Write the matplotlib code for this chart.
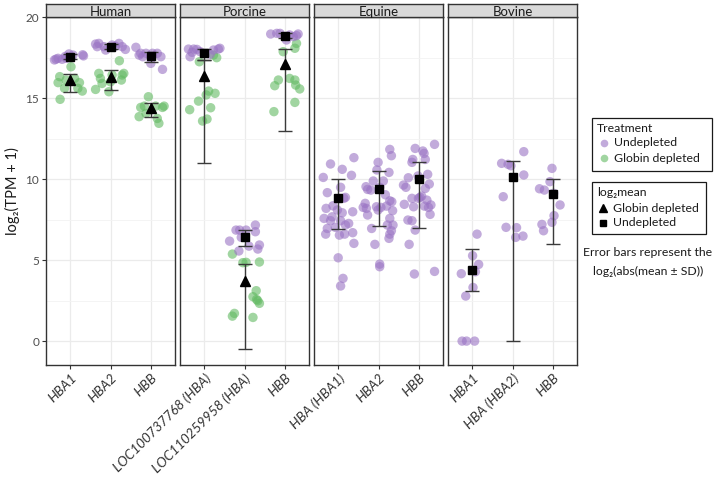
import numpy as np
import matplotlib.pyplot as plt
from matplotlib.patches import Rectangle
from matplotlib.lines import Line2D

plt.rcParams['font.family'] = ['Lato', 'DejaVu Sans']

species = ["Human", "Porcine", "Equine", "Bovine"]
genes = [["HBA1", "HBA2", "HBB"],
         ["LOC100737768 (HBA)", "LOC110259958 (HBA)", "HBB"],
         ["HBA (HBA1)", "HBA2", "HBB"],
         ["HBA1", "HBA (HBA2)", "HBB"]]

# sample points as (jitter offset, log2(TPM+1))
hum_hba1_und = [(-0.39, 17.35), (-0.30, 17.45), (-0.20, 17.39), (-0.12, 17.57), (-0.03, 17.72),
                (0.07, 17.65), (0.31, 17.67), (-0.35, 17.40), (-0.10, 17.45), (0.33, 17.6)]
hum_hba1_glo = [(0.02, 16.93), (-0.26, 16.32), (-0.30, 15.95), (-0.14, 15.6), (-0.25, 14.92),
                (0.23, 15.95), (0.30, 15.43), (0.19, 15.6), (-0.10, 16.11), (0.11, 16.21)]
hum_hba2_und = [(-0.37, 18.33), (-0.33, 18.17), (-0.29, 18.37), (-0.12, 17.96), (0.04, 18.27),
                (0.21, 18.37), (0.29, 18.17), (0.37, 18.0), (-0.16, 18.17), (0.12, 18.2)]
hum_hba2_glo = [(0.22, 17.3), (-0.29, 16.52), (-0.25, 16.21), (-0.37, 15.53), (-0.04, 15.39),
                (-0.21, 15.9), (0.0, 16.0), (0.29, 16.42), (0.33, 16.52), (0.27, 16.11), (0.04, 16.42)]
hum_hbb_und = [(-0.37, 18.13), (-0.29, 17.65), (-0.20, 17.55), (-0.12, 17.76), (0.04, 17.76),
               (0.16, 17.76), (0.25, 17.55), (0.0, 17.14), (0.29, 16.77), (-0.25, 17.76)]
hum_hbb_glo = [(-0.06, 15.08), (-0.25, 14.42), (-0.16, 14.5), (0.12, 14.5), (0.29, 14.42),
               (0.33, 14.5), (-0.29, 13.85), (-0.12, 14.05), (0.16, 13.74), (0.2, 13.44)]

por_loc1_und = [(-0.39, 18.02), (-0.26, 18.02), (-0.18, 18.0), (-0.35, 17.55), (-0.10, 17.86),
                (0.15, 17.7), (0.35, 18.02), (0.39, 18.07), (-0.30, 17.82), (0.23, 17.96)]
por_loc1_glo = [(-0.12, 17.24), (0.31, 17.49), (0.23, 17.65), (0.11, 15.43), (0.05, 15.19),
                (0.27, 15.29), (-0.14, 14.81), (-0.36, 14.28), (0.16, 14.4), (0.07, 13.7), (-0.04, 13.58)]
por_loc2_und = [(-0.21, 6.85), (-0.12, 6.85), (0.04, 6.85), (0.27, 7.16), (0.27, 6.75), (-0.37, 6.17),
                (-0.08, 6.4), (0.11, 5.86), (-0.14, 5.56), (0.33, 5.68), (0.37, 5.93)]
por_loc2_glo = [(-0.30, 5.37), (-0.04, 4.84), (0.04, 4.86), (0.37, 4.88), (0.29, 3.11), (0.21, 2.74),
                (0.30, 2.57), (0.37, 2.33), (0.33, 2.49), (-0.25, 1.71), (-0.30, 1.54), (0.21, 1.46)]
por_hbb_und = [(-0.35, 18.95), (-0.20, 18.99), (-0.12, 18.99), (0.04, 18.58), (0.21, 18.79),
               (0.29, 18.85), (0.33, 18.95), (0.12, 18.89)]
por_hbb_glo = [(0.29, 18.37), (0.25, 18.07), (-0.04, 17.86), (0.12, 16.21), (0.25, 16.11),
               (0.27, 15.8), (0.37, 15.56), (-0.16, 16.11), (-0.25, 15.76), (0.25, 14.73), (-0.27, 14.16)]

equ_hba_und = [(-0.19, 10.93), (0.10, 10.6), (0.39, 11.32), (-0.37, 10.1), (0.33, 10.23), (-0.27, 9.16),
               (0.06, 9.49), (0.18, 8.87), (-0.30, 8.19), (-0.13, 8.35), (-0.02, 8.09), (0.10, 7.92),
               (0.36, 7.98), (-0.35, 7.57), (-0.19, 7.43), (0.06, 7.43), (0.26, 7.26), (-0.27, 6.95),
               (-0.07, 7.02), (0.18, 7.16), (-0.31, 6.6), (0.03, 6.54), (0.16, 6.6), (0.36, 6.69),
               (0.39, 6.03), (0.0, 5.14), (0.12, 3.87), (0.06, 3.4), (-0.15, 7.67), (0.14, 8.81)]
equ_hba2_und = [(0.28, 11.83), (0.32, 11.44), (-0.01, 11.03), (0.26, 10.41), (-0.04, 10.56),
                (-0.13, 9.88), (0.12, 9.88), (-0.31, 9.53), (-0.27, 9.36), (-0.19, 9.32), (0.03, 9.49),
                (0.17, 9.03), (0.28, 8.66), (0.33, 8.6), (-0.33, 8.5), (-0.38, 8.25), (-0.30, 8.19),
                (-0.05, 8.29), (0.06, 8.25), (0.20, 8.33), (-0.01, 8.09), (0.35, 8.05), (-0.27, 7.78),
                (0.28, 7.57), (0.36, 7.16), (0.22, 7.16), (0.32, 6.81), (0.28, 6.6), (0.26, 6.34),
                (-0.09, 5.97), (0.03, 4.75), (0.03, 4.59), (-0.17, 6.95)]
equ_hbb_und = [(-0.09, 11.89), (0.39, 12.14), (0.10, 11.73), (0.13, 11.58), (-0.17, 11.03),
               (-0.15, 11.21), (0.16, 11.21), (0.22, 10.29), (-0.26, 10.08), (-0.02, 10.19),
               (0.26, 9.69), (-0.38, 9.63), (-0.32, 9.49), (0.16, 9.42), (-0.17, 8.81), (-0.01, 8.81),
               (0.07, 8.95), (0.20, 8.7), (-0.36, 8.44), (-0.13, 8.29), (0.14, 8.33), (0.24, 8.25),
               (0.30, 8.4), (0.28, 7.82), (-0.27, 7.47), (-0.17, 7.43), (-0.09, 6.85), (-0.24, 5.97),
               (-0.11, 4.14), (0.39, 4.3), (0.03, 8.87)]

bov_hba1_und = [(0.12, 6.6), (0.01, 5.27), (0.16, 4.73), (0.08, 4.28), (-0.27, 4.16), (0.02, 3.31),
                (-0.16, 2.78), (-0.25, 0.0), (-0.14, 0.0), (0.06, 0.0)]
bov_hba2_und = [(0.28, 11.69), (-0.27, 10.97), (-0.11, 10.91), (-0.04, 10.82), (0.28, 10.25),
                (-0.23, 8.91), (-0.16, 7.02), (0.10, 7.0), (0.08, 6.4), (0.26, 6.48)]
bov_hbb_und = [(-0.02, 10.66), (-0.07, 9.84), (-0.33, 9.4), (-0.21, 9.32), (0.02, 9.12), (0.18, 8.4),
               (0.03, 7.74), (-0.02, 7.33), (-0.27, 7.2), (-0.23, 6.81)]

# log2 means with log2(abs(mean +/- SD)) bars
und_mean = [[17.55, 18.17, 17.6], [17.8, 6.44, 18.85], [8.8, 9.36, 10.0], [4.38, 10.1, 9.07]]
und_lo = [[17.4, 18.02, 17.25], [17.35, 5.86, 18.68], [6.9, 7.12, 6.95], [3.1, 0.0, 6.0]]
und_hi = [[17.7, 18.32, 17.86], [18.05, 6.85, 19.0], [9.98, 10.5, 11.07], [5.66, 11.1, 9.98]]
glo_mean = [[16.1, 16.3, 14.4], [16.36, 3.72, 17.1]]
glo_lo = [[15.4, 15.5, 13.8], [11.0, -0.5, 12.96]]
glo_hi = [[16.46, 16.7, 14.7], [17.35, 4.73, 18.0]]

groups = [
    (0, 0, hum_hba1_glo, 'g'), (0, 0, hum_hba1_und, 'u'),
    (0, 1, hum_hba2_glo, 'g'), (0, 1, hum_hba2_und, 'u'),
    (0, 2, hum_hbb_glo, 'g'), (0, 2, hum_hbb_und, 'u'),
    (1, 0, por_loc1_glo, 'g'), (1, 0, por_loc1_und, 'u'),
    (1, 1, por_loc2_glo, 'g'), (1, 1, por_loc2_und, 'u'),
    (1, 2, por_hbb_glo, 'g'), (1, 2, por_hbb_und, 'u'),
    (2, 0, equ_hba_und, 'u'), (2, 1, equ_hba2_und, 'u'), (2, 2, equ_hbb_und, 'u'),
    (3, 0, bov_hba1_und, 'u'), (3, 1, bov_hba2_und, 'u'), (3, 2, bov_hbb_und, 'u'),
]

W, H = 715, 480
purple = '#9A74C4'
green = '#62BA62'
barcol = '#3A3A3A'

fig = plt.figure(figsize=(W / 100, H / 100), dpi=100)

lefts = [46, 180, 314, 448]
axes = []
for i, sp in enumerate(species):
    ax = fig.add_axes([lefts[i] / W, (H - 365) / H, 129 / W, 348 / H])
    ax.set_xlim(0.4, 3.6)
    ax.set_ylim(-1.475, 19.975)
    ax.set_yticks([0, 5, 10, 15, 20])
    ax.set_yticks([2.5, 7.5, 12.5, 17.5], minor=True)
    ax.grid(which='major', color='#EBEBEB', lw=0.9)
    ax.grid(which='minor', axis='y', color='#F3F3F3', lw=0.6)
    ax.set_axisbelow(True)
    ax.tick_params(which='minor', length=0)
    ax.tick_params(axis='both', which='major', length=3, width=0.8, color='#333333',
                   labelsize=8.5, labelcolor='#4D4D4D', pad=2)
    ax.set_xticks([1, 2, 3])
    ax.set_xticklabels(genes[i], rotation=45, ha='right', va='top', rotation_mode='anchor',
                       style='italic', fontsize=9.8, color='#333333')
    for s in ax.spines.values():
        s.set_color('#333333')
        s.set_linewidth(1.0)
    if i > 0:
        ax.tick_params(axis='y', left=False, labelleft=False)
    # strip
    st = fig.add_axes([lefts[i] / W, (H - 17) / H, 129 / W, 13 / H])
    st.set_facecolor('#D9D9D9')
    st.set_xticks([])
    st.set_yticks([])
    for s in st.spines.values():
        s.set_color('#333333')
        s.set_linewidth(1.0)
    st.text(0.5, 0.42, sp, ha='center', va='center', fontsize=9.5, color='#1A1A1A',
            transform=st.transAxes)
    axes.append(ax)

axes[0].set_ylabel('log₂(TPM + 1)', fontsize=10.5, color='#1A1A1A')
axes[0].yaxis.set_label_coords(-0.205, 0.5)

for sp_i, g_i, pts, tr in groups:
    pts = np.array(pts)
    axes[sp_i].scatter(g_i + 1 + pts[:, 0], pts[:, 1], s=46, color=green if tr == 'g' else purple,
                       alpha=0.6, edgecolors='none', zorder=2)

for i in range(4):
    x = np.arange(1, 4)
    m = np.array(und_mean[i])
    lo = np.array(und_lo[i])
    hi = np.array(und_hi[i])
    axes[i].errorbar(x, m, yerr=[m - lo, hi - m], fmt='none', ecolor=barcol, elinewidth=1,
                     capsize=4.8, capthick=1, zorder=3)
    if i < 2:
        gm = np.array(glo_mean[i])
        glo = np.array(glo_lo[i])
        ghi = np.array(glo_hi[i])
        axes[i].errorbar(x, gm, yerr=[gm - glo, ghi - gm], fmt='none', ecolor=barcol,
                         elinewidth=1, capsize=4.8, capthick=1, zorder=3)
        axes[i].plot(x, gm, '^', color='black', markersize=7.5, zorder=4)
    axes[i].plot(x, m, 's', color='black', markersize=6.3, zorder=4)


def fx(x):
    return x / W


def fy(y):
    return 1 - y / H


# legends drawn by hand
fs = 8.8
fig.patches.append(Rectangle((fx(592), fy(171)), 120 / W, 53 / H, transform=fig.transFigure,
                             fill=False, edgecolor='#1A1A1A', lw=0.9))
fig.text(fx(597), fy(128), 'Treatment', fontsize=fs, va='center', color='#1A1A1A')
fig.lines.append(Line2D([fx(604)], [fy(143)], marker='o', markersize=5.5, color=purple, alpha=0.6,
                        markeredgewidth=0, transform=fig.transFigure))
fig.lines.append(Line2D([fx(604)], [fy(158)], marker='o', markersize=5.5, color=green, alpha=0.6,
                        markeredgewidth=0, transform=fig.transFigure))
fig.text(fx(614), fy(143), 'Undepleted', fontsize=fs, va='center', color='#1A1A1A')
fig.text(fx(614), fy(158), 'Globin depleted', fontsize=fs, va='center', color='#1A1A1A')

fig.patches.append(Rectangle((fx(592), fy(234)), 114 / W, 52 / H, transform=fig.transFigure,
                             fill=False, edgecolor='#1A1A1A', lw=0.9))
fig.text(fx(597), fy(192), 'log₂mean', fontsize=fs, va='center', color='#1A1A1A')
fig.lines.append(Line2D([fx(603)], [fy(208)], marker='^', markersize=5.5, color='black',
                        transform=fig.transFigure))
fig.lines.append(Line2D([fx(603)], [fy(223)], marker='s', markersize=4.5, color='black',
                        transform=fig.transFigure))
fig.text(fx(613), fy(208), 'Globin depleted', fontsize=fs, va='center', color='#1A1A1A')
fig.text(fx(613), fy(223), 'Undepleted', fontsize=fs, va='center', color='#1A1A1A')

fig.text(fx(648), fy(253), 'Error bars represent the', fontsize=8.8, ha='center', va='center',
         color='#1A1A1A')
fig.text(fx(648), fy(271), 'log₂(abs(mean ± SD))', fontsize=8.8, ha='center', va='center',
         color='#1A1A1A')

fig.savefig('out.png', dpi=100)
